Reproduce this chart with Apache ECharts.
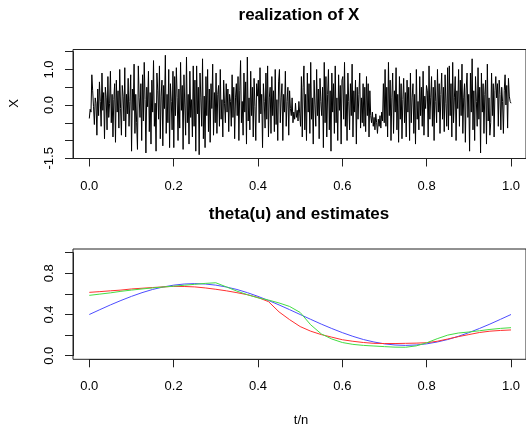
<!DOCTYPE html>
<html><head><meta charset="utf-8">
<script src="https://cdn.jsdelivr.net/npm/echarts@6/dist/echarts.min.js"></script>
<style>html,body{margin:0;padding:0;background:#fff}#c{width:526px;height:426px}</style>
</head><body><div id="c"></div>
<script>
// ---- data ----
const mainTitle = 'realization of X';
const subTitle = 'theta(u) and estimates';
const yNameTop = 'X';
const xNameBottom = 't/n';

// realization of X (evenly spaced over t/n in [0,1])
const xValues = [
 -0.38,-0.12,-0.2,0.85,0.4,-0.05,-0.55,0.2,0.05,-0.85,0.45,-0.3,0.65,0.1,-0.6,0.9,-0.15,0.35,-0.95,0.5,0.2,-0.7,0.8,-0.35,0.05,
 0.95,-0.5,0.3,-0.9,0.15,0.6,-1.05,0.7,-0.2,0.4,-0.65,1.0,-0.1,-0.85,0.55,0.25,-0.45,1.05,-0.9,0.3,-0.25,0.75,-0.6,0.1,0.85,
 -1.3,0.45,-0.15,1.15,-0.8,0.3,-0.5,-1.25,1.1,0.2,-0.35,0.6,-1.0,0.85,-0.45,1.2,0.15,-1.35,0.5,-0.05,0.95,-0.75,0.35,-1.1,0.7,
 -0.2,1.25,-0.6,0.05,-1.3,0.9,0.4,-0.4,1.1,-0.95,0.25,0.7,-1.15,0.55,-0.1,1.4,-0.8,0.3,-0.5,1.0,-1.2,0.6,0.1,-0.7,0.95,
 -1.2,0.8,-0.3,1.05,0.2,-1.0,0.45,-0.65,1.2,-0.15,0.55,-1.25,0.85,0.0,-0.85,1.35,-0.5,0.3,-1.1,0.95,-0.35,0.15,-0.9,1.1,-0.6,
 0.7,-1.3,1.1,-0.25,0.5,-1.4,0.9,0.2,-0.6,1.3,-0.95,0.25,-1.2,0.8,-0.3,1.0,-0.75,0.45,-1.05,0.6,-0.1,1.15,-0.85,0.35,-0.5,
 0.9,-0.8,0.3,0.55,-0.6,1.0,-0.4,0.15,-0.9,0.7,0.05,-0.5,0.6,-0.2,0.45,-0.75,0.3,0.1,-0.6,0.85,-0.35,0.5,-0.95,0.2,0.6,
 -0.3,0.8,-1.0,0.4,1.25,-0.5,0.1,-0.85,0.9,-0.2,0.65,-1.1,1.35,-0.45,0.2,-0.7,0.95,-0.3,0.5,-0.9,0.75,-0.05,-1.0,0.6,0.25,
 0.7,-0.5,1.05,-0.25,0.3,-1.2,0.6,0.1,-0.65,0.9,-0.4,1.1,-0.9,0.2,0.5,-0.8,0.8,-0.3,0.4,-0.75,1.0,-0.55,0.15,-1.0,0.65,
 1.0,-0.5,0.2,0.6,-1.0,0.3,-0.2,0.95,-0.6,0.1,0.5,-0.85,0.4,-0.1,-0.3,0.2,-0.5,-0.2,-0.4,0.05,-0.35,-0.15,-0.45,0.1,-0.25,
 -0.6,0.8,-0.9,0.5,1.1,-0.7,0.3,-1.0,0.9,-0.2,0.6,-0.8,1.2,-0.4,0.2,-1.1,0.7,0.0,-0.6,1.0,-0.3,0.45,-0.95,0.75,0.1,
 -0.3,0.5,-1.2,1.2,-0.5,0.8,-0.9,0.3,1.0,-0.7,0.4,-1.3,0.9,-0.2,0.6,-0.8,1.1,-0.5,0.2,-1.0,0.85,-0.15,0.55,-1.1,0.7,
 0.8,-0.4,1.2,-0.6,0.3,-1.0,0.9,0.1,-0.7,0.6,-0.3,1.15,-0.9,0.4,-0.2,0.7,-1.1,0.5,-0.4,0.3,0.9,-0.65,0.2,-0.5,0.6,
 -0.6,0.5,-0.75,0.8,-0.3,0.6,-0.9,0.4,-0.3,-0.5,-0.2,-0.6,-0.35,-0.7,-0.25,-0.5,-0.8,-0.4,-0.6,-0.3,-0.65,-0.2,-0.45,0.6,-0.5,
 1.0,-0.6,0.5,-0.9,1.2,-0.3,0.7,-1.0,0.2,0.9,-0.8,0.4,-0.2,1.05,-0.7,0.3,-1.05,0.8,-0.4,0.6,-0.95,0.15,0.75,-0.5,0.35,
 -0.9,0.7,-0.2,0.5,-1.0,0.9,-0.5,0.2,0.6,-0.8,0.3,-1.1,1.0,-0.4,0.1,-0.7,0.8,-0.3,0.5,-0.6,0.95,-0.85,0.25,-0.1,0.55,
 0.4,-0.9,1.1,-0.4,0.2,0.8,-0.6,0.5,-1.0,0.7,0.1,-0.5,1.0,-0.2,0.6,-0.8,0.3,0.9,-0.4,0.5,-0.75,0.85,0.05,-0.6,1.05,
 -0.7,1.1,-0.3,0.6,-0.9,1.2,-0.5,0.2,0.8,-1.0,0.4,-0.1,1.0,-0.6,0.7,-0.3,1.15,-0.8,0.2,0.6,-1.05,0.45,0.9,-0.35,0.3,
 -1.3,0.9,-0.2,1.3,-0.7,0.4,-1.0,0.8,0.1,-0.6,1.05,-0.4,0.5,-1.35,0.9,-0.2,0.6,-0.8,0.3,0.7,-1.1,1.15,-0.45,0.2,-0.85,
 -0.5,0.9,-0.3,0.6,-0.9,0.4,0.8,0.2,0.6,-0.6,0.7,0.3,-0.7,0.5,0.1,-0.8,0.4,0.85,0.0,0.55,-0.65,0.75,0.25,0.1,0.05
];

// u positions for theta curves
const uValues = [0,0.025,0.05,0.075,0.1,0.125,0.15,0.175,0.2,0.225,0.25,0.275,0.3,0.325,0.35,0.375,0.4,0.425,0.45,0.475,0.5,
 0.525,0.55,0.575,0.6,0.625,0.65,0.675,0.7,0.725,0.75,0.775,0.8,0.825,0.85,0.875,0.9,0.925,0.95,0.975,1.0];
const thetaTrue = [0.400,0.447,0.493,0.536,0.576,0.612,0.643,0.667,0.685,0.696,0.700,0.696,0.685,0.667,0.643,0.612,0.576,0.536,0.493,0.447,0.400,
 0.353,0.307,0.264,0.224,0.188,0.157,0.133,0.115,0.104,0.100,0.104,0.115,0.133,0.157,0.188,0.224,0.264,0.307,0.353,0.400];
const estRed = [0.615,0.622,0.630,0.637,0.648,0.655,0.662,0.668,0.673,0.672,0.668,0.658,0.645,0.630,0.612,0.592,0.565,0.525,0.425,0.350,0.283,
 0.238,0.205,0.180,0.155,0.140,0.128,0.120,0.118,0.118,0.120,0.122,0.126,0.140,0.162,0.185,0.205,0.225,0.238,0.245,0.250];
const estGreen = [0.586,0.598,0.610,0.625,0.637,0.648,0.658,0.667,0.675,0.684,0.693,0.702,0.708,0.668,0.627,0.592,0.562,0.540,0.512,0.478,0.420,
 0.300,0.212,0.162,0.128,0.110,0.100,0.094,0.088,0.083,0.082,0.095,0.125,0.165,0.200,0.220,0.230,0.242,0.255,0.265,0.272];

const topYLabels = ['1.0','0.0','-1.5'];
const botYLabels = ['0.0','0.4','0.8'];

// ---- chart ----
const FONT = 'Liberation Sans, Arial, Helvetica, sans-serif';
const INK = '#222';
const chart = echarts.init(document.getElementById('c'), null, {renderer:'canvas'});

const topPts = xValues.map((v,i)=>[i/(xValues.length-1), v]);
const pair = arr => arr.map((v,i)=>[uValues[i], v]);

const hiddenX = (g, min, max) => ({gridIndex:g, type:'value', show:false, min, max});
const hiddenY = (g, min, max) => ({gridIndex:g, type:'value', show:false, min, max});
const lineStyleAx = {show:true, onZero:false, lineStyle:{color:INK, width:1}};
const tickAx = {show:true, inside:false, length:8, lineStyle:{color:INK, width:1}};

const xTickAxis = g => ({gridIndex:g, type:'value', min:0, max:1, interval:0.2, position:'bottom',
  axisLine:lineStyleAx, axisTick:tickAx, splitLine:{show:false},
  axisLabel:{show:true, margin:21, fontSize:13, fontFamily:FONT, color:'#000', formatter:v=>v.toFixed(1)}});
const yTickAxis = (g, min, max, interval, labels) => ({gridIndex:g, type:'value', min, max, interval, position:'left',
  axisLine:lineStyleAx, axisTick:tickAx, splitLine:{show:false},
  axisLabel:{show:true, rotate:90, margin:17, fontSize:13, fontFamily:FONT, color:'#000',
    formatter:v=>{const s=(Math.abs(v)<1e-9?0:v).toFixed(1); return labels.indexOf(s)>=0?s:'';}}});

const option = {
  animation:false,
  backgroundColor:'#fff',
  grid:[
    {left:73, top:49.5, width:454, height:109, show:true, borderColor:INK, borderWidth:1, backgroundColor:'transparent'},
    {left:89.3, top:49.5, width:421.7, height:109, show:false},
    {left:73, top:51.7, width:454, height:106.6, show:false},
    {left:73, top:249, width:454, height:110.3, show:true, borderColor:INK, borderWidth:1, backgroundColor:'transparent'},
    {left:89.3, top:249, width:421.7, height:110.3, show:false},
    {left:73, top:252.7, width:454, height:103, show:false}
  ],
  xAxis:[
    hiddenX(0,0,1),
    xTickAxis(1),
    hiddenX(2,0,1),
    hiddenX(3,0,1),
    xTickAxis(4),
    hiddenX(5,0,1)
  ],
  yAxis:[
    hiddenY(0,0,1),
    hiddenY(1,-1.506,1.562),
    yTickAxis(2,-1.5,1.5,0.5,topYLabels),
    hiddenY(3,0,1),
    hiddenY(4,-0.035,1.036),
    yTickAxis(5,0,1,0.2,botYLabels)
  ],
  series:[
    {type:'line', xAxisIndex:1, yAxisIndex:1, data:topPts, showSymbol:false, symbol:'none',
      lineStyle:{color:'#000', width:1}, clip:false},
    {type:'line', xAxisIndex:4, yAxisIndex:4, data:pair(thetaTrue), showSymbol:false, symbol:'none',
      lineStyle:{color:'#4d4dff', width:1}, clip:false},
    {type:'line', xAxisIndex:4, yAxisIndex:4, data:pair(estRed), showSymbol:false, symbol:'none',
      lineStyle:{color:'#ff3030', width:1}, clip:false},
    {type:'line', xAxisIndex:4, yAxisIndex:4, data:pair(estGreen), showSymbol:false, symbol:'none',
      lineStyle:{color:'#44dd44', width:1}, clip:false}
  ],
  graphic:[
    {type:'text', x:299, y:15.5, style:{text:mainTitle, fill:'#000', font:'bold 17px '+FONT, textAlign:'center', textVerticalAlign:'middle'}},
    {type:'text', x:299, y:214, style:{text:subTitle, fill:'#000', font:'bold 17px '+FONT, textAlign:'center', textVerticalAlign:'middle'}},
    {type:'text', x:14.5, y:103.5, rotation:Math.PI/2, style:{text:yNameTop, fill:'#000', font:'13px '+FONT, textAlign:'center', textVerticalAlign:'middle'}},
    {type:'text', x:301, y:420, style:{text:xNameBottom, fill:'#000', font:'13px '+FONT, textAlign:'center', textVerticalAlign:'middle'}}
  ]
};
chart.setOption(option);
</script>
</body></html>
